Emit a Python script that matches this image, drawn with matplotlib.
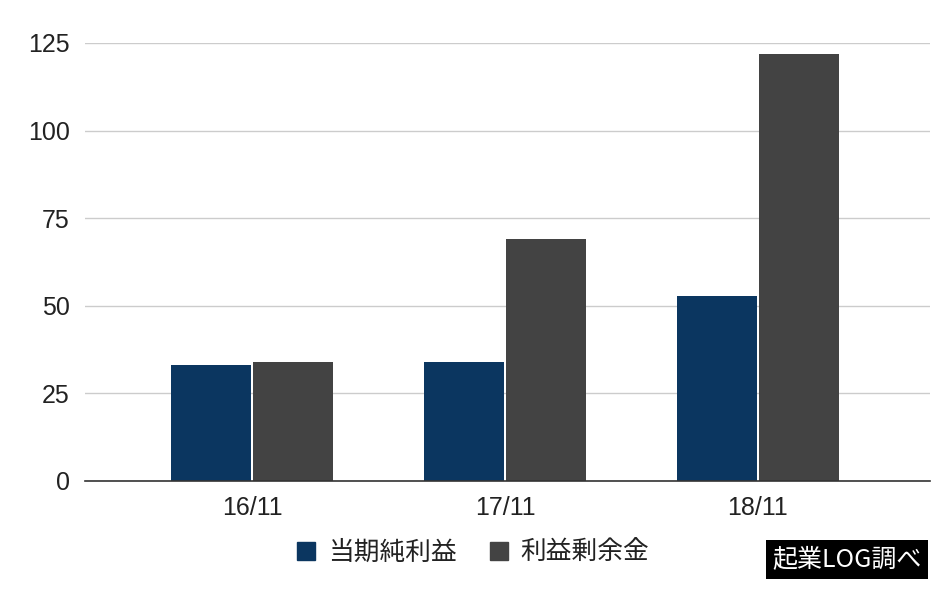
import matplotlib
matplotlib.use("Agg")
import matplotlib.pyplot as plt
from matplotlib.patches import Patch
import numpy as np

plt.rcParams['font.family'] = ['Liberation Sans', 'Noto Sans CJK JP', 'DejaVu Sans']

categories = ["16/11", "17/11", "18/11"]
net_income = [33, 34, 52.7]
retained = [34, 69, 122]
series_names = ["当期純利益", "利益剰余金"]
yticks = [0, 25, 50, 75, 100, 125]

c_blue = "#0b3660"
c_gray = "#434343"

fig = plt.figure(figsize=(9.52, 5.91), dpi=100)
ax = fig.add_axes([85/952, 1 - 481/591, 845/952, 438/591])

x = np.arange(len(categories))
w = 0.316
gap = 0.004
ax.bar(x - w/2 - gap, net_income, w, color=c_blue, zorder=3)
ax.bar(x + w/2 + gap, retained, w, color=c_gray, zorder=3)

ax.set_xlim(-0.66, 2.68)
ax.set_ylim(0, 125)
ax.set_yticks(yticks)
ax.set_xticks(x)
ax.set_xticklabels(categories)
ax.grid(axis='y', color='#cccccc', linewidth=1, zorder=0)
for s in ['top', 'right', 'left']:
    ax.spines[s].set_visible(False)
ax.spines['bottom'].set_color('#333333')
ax.spines['bottom'].set_linewidth(1.2)
ax.spines['bottom'].set_zorder(4)
ax.tick_params(axis='both', length=0, labelsize=18, colors='#222222')
ax.tick_params(axis='y', pad=11)
ax.tick_params(axis='x', pad=11)

handles = [Patch(color=c_blue), Patch(color=c_gray)]
leg = fig.legend(handles, series_names, loc='center', bbox_to_anchor=(473/952, 1 - 553/591),
                 ncol=2, frameon=False, handlelength=0.7, handleheight=0.7,
                 handletextpad=0.5, columnspacing=1.3,
                 prop={'family': ['Noto Sans CJK JP'], 'size': 18.5})
for t in leg.get_texts():
    t.set_color('#222222')

fig.text(847/952, 1 - 559/591, "起業LOG調べ", ha='center', va='center', color='white',
         fontsize=18, family=['Noto Sans CJK JP'],
         bbox=dict(boxstyle='square,pad=0.26', facecolor='black', edgecolor='none'))

fig.savefig("out.png", dpi=100)
